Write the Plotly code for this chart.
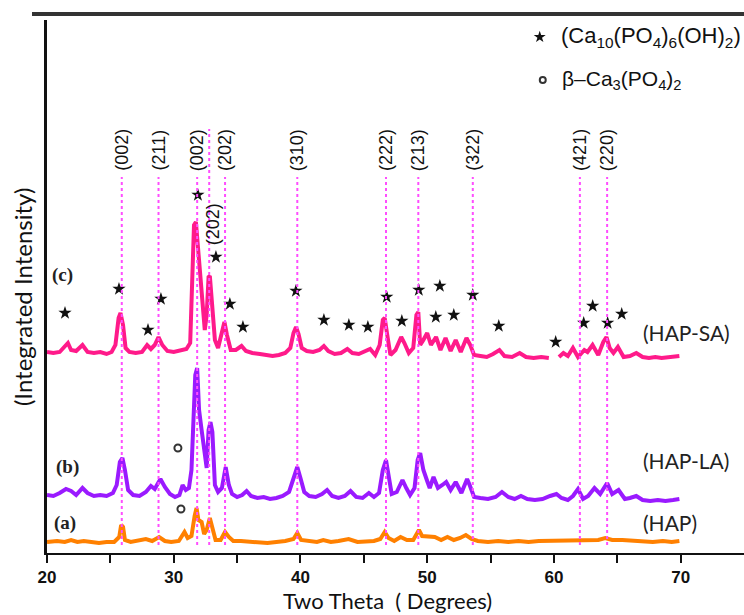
import plotly.graph_objects as go

# ---- XRD patterns (2-theta in degrees, stacked intensity in a.u.) ----
sa_theta = [20.0, 20.5, 21.0, 21.4, 21.65, 21.9, 22.3, 22.8, 23.2, 23.7, 24.2, 24.7, 25.1, 25.4, 25.65,
            25.8, 26.0, 26.2, 26.5, 27.0, 27.5, 27.9, 28.2, 28.5, 28.8, 29.1, 29.5, 30.0, 30.5, 31.0,
            31.3, 31.45, 31.6, 31.75, 31.9, 32.05, 32.25, 32.45, 32.6, 32.75, 32.85, 33.0, 33.25, 33.5,
            33.75, 34.0, 34.2, 34.5, 34.9, 35.35, 35.7, 36.2, 36.8, 37.3, 37.8, 38.3, 38.8, 39.2, 39.45,
            39.65, 39.85, 40.1, 40.5, 41.0, 41.5, 41.85, 42.2, 42.7, 43.2, 43.7, 44.1, 44.6, 45.1, 45.5,
            45.9, 46.25, 46.5, 46.65, 46.85, 47.1, 47.5, 47.95, 48.2, 48.55, 48.9, 49.15, 49.3, 49.45,
            49.7, 50.0, 50.3, 50.7, 51.05, 51.45, 51.85, 52.25, 52.65, 53.1, 53.4, 53.7, 54.2, 54.7,
            55.2, 55.7, 56.1, 56.7, 57.3, 57.8, 58.4, 59.0, 59.6, 59.9, 60.4, 60.75, 61.1, 61.5, 61.9,
            62.4, 62.65, 63.05, 63.5, 63.9, 64.15, 64.4, 64.7, 65.05, 65.5, 66.0, 66.5, 67.0, 67.5,
            68.0, 68.5, 69.0, 69.5, 69.9]
sa_counts = [201, 200, 201, 207, 210, 203, 202, 208, 201, 200, 201, 199, 201, 208, 235,
             240, 228, 205, 201, 200, 201, 208, 204, 208, 216, 208, 202, 201, 203, 204,
             210, 263, 328, 331, 308, 280, 253, 223, 238, 276, 277, 253, 213, 205,
             218, 231, 218, 203, 203, 207, 202, 200, 199, 198, 197, 198, 200, 205, 220,
             226, 219, 205, 202, 201, 203, 207, 202, 199, 200, 204, 200, 199, 202, 204,
             198, 208, 233, 235, 218, 198, 203, 216, 210, 200, 205, 238, 241, 208,
             213, 220, 208, 216, 203, 215, 202, 213, 201, 215, 208, 198, 197, 196,
             199, 203, 197, 196, 200, 196, 195, 196, 195, None, 196, 200, 197, 205, 196,
             203, 201, 208, 198, 211, 216, 205, 200, 206, 196, 197, 200, 196, 195,
             196, 195, 196, 196, 197]

la_theta = [20.0, 20.5, 21.0, 21.5, 21.9, 22.3, 22.8, 23.2, 23.7, 24.2, 24.7, 25.2, 25.5, 25.75, 25.95,
            26.15, 26.4, 26.8, 27.3, 27.8, 28.2, 28.5, 28.95, 29.3, 29.7, 30.1, 30.45, 30.7, 30.95,
            31.2, 31.4, 31.55, 31.7, 31.85, 32.0, 32.2, 32.45, 32.6, 32.75, 32.9, 33.05, 33.25, 33.5,
            33.8, 34.1, 34.35, 34.6, 35.0, 35.4, 35.75, 36.1, 36.6, 37.1, 37.6, 38.1, 38.6, 39.1,
            39.45, 39.75, 40.0, 40.3, 40.7, 41.2, 41.7, 42.1, 42.5, 43.0, 43.5, 43.95, 44.4, 44.9,
            45.4, 45.8, 46.2, 46.5, 46.75, 46.95, 47.2, 47.6, 48.05, 48.35, 48.65, 49.0, 49.25,
            49.45, 49.7, 50.0, 50.2, 50.5, 50.85, 51.2, 51.5, 51.85, 52.25, 52.7, 53.15, 53.35,
            53.7, 54.2, 54.8, 55.4, 55.9, 56.4, 56.9, 57.4, 57.9, 58.5, 59.1, 59.7, 60.2, 60.6,
            61.1, 61.5, 61.9, 62.3, 62.7, 63.2, 63.65, 64.2, 64.6, 65.1, 65.6, 66.0, 66.5, 67.0,
            67.6, 68.2, 68.8, 69.4, 69.9]
la_counts = [58, 57, 60, 64, 62, 58, 65, 60, 57, 58, 57, 60, 68, 91, 95,
             83, 63, 58, 57, 61, 67, 64, 74, 66, 59, 56, 58, 68, 63,
             65, 83, 133, 178, 185, 143, 123, 103, 85, 123, 131, 121, 68, 61,
             65, 86, 68, 59, 56, 58, 62, 57, 55, 56, 54, 55, 57, 61,
             75, 86, 75, 61, 57, 56, 59, 63, 57, 55, 57, 62, 56, 55,
             60, 56, 60, 83, 93, 78, 59, 61, 73, 65, 58, 65, 93,
             100, 83, 72, 65, 76, 65, 68, 71, 63, 71, 60, 74, 68,
             56, 55, 54, 56, 61, 56, 54, 57, 54, 53, 54, 57, 59, 55,
             53, 57, 64, 54, 57, 65, 59, 70, 59, 63, 54, 55, 57, 53,
             52, 53, 52, 53, 54]

hap_theta = [20.0, 20.8, 21.4, 21.9, 22.4, 22.9, 23.5, 24.1, 24.7, 25.3, 25.7, 25.85, 26.0, 26.15,
             26.6, 27.2, 27.8, 28.3, 28.85, 29.3, 29.8, 30.4, 30.85, 31.1, 31.4, 31.65, 31.8, 31.95,
             32.2, 32.4, 32.6, 32.85, 33.05, 33.3, 33.7, 34.05, 34.35, 34.7, 35.3, 36.0, 36.7, 37.4,
             38.1, 38.8, 39.45, 39.75, 40.05, 40.6, 41.3, 41.8, 42.4, 43.0, 43.8, 44.5, 45.2, 45.8,
             46.3, 46.65, 46.95, 47.4, 47.9, 48.4, 48.9, 49.35, 49.6, 50.1, 50.6, 51.1, 51.6, 52.1,
             52.6, 53.05, 53.5, 54.0, 54.8, 55.6, 56.4, 57.2, 58.0, 58.8, 59.6, 60.4, 61.2, 62.0,
             62.8, 63.5, 64.05, 64.6, 65.4, 66.2, 67.0, 67.8, 68.6, 69.3, 69.9]
hap_counts = [11, 12, 11, 13, 11, 12, 11, 10, 11, 11, 16, 28, 26, 13,
              11, 12, 14, 12, 16, 12, 11, 12, 21, 15, 17, 37, 45, 33,
              31, 19, 23, 35, 25, 13, 13, 21, 16, 12, 12, 11, 11, 10,
              11, 12, 14, 20, 13, 12, 11, 13, 11, 12, 14, 11, 12, 12,
              14, 21, 15, 12, 16, 13, 13, 23, 17, 16, 16, 13, 16, 13,
              15, 18, 14, 12, 11, 12, 11, 12, 11, 12, 12, 13, 12, 13,
              12, 13, 15, 13, 13, 12, 12, 11, 12, 11, 12]

# ---- reflection markers ----
hap_star_theta = [21.42, 25.68, 27.97, 28.99, 31.91, 33.33, 34.43, 35.46, 39.64, 41.85, 43.82, 45.32,
                  46.81, 48.0, 49.34, 50.68, 51.0, 52.1, 53.6, 55.65, 60.14, 62.35, 63.06, 64.24, 65.35]
hap_star_level = [240, 264, 223, 254, 358, 296, 249, 226, 262, 233, 228, 226,
                  256, 232, 263, 236, 267, 238, 258, 227, 211, 230, 247, 230, 239]
tcp_theta = [30.33, 30.57]
tcp_level = [105, 44]

# legend key positions
key_theta = [58.88, 59.12]
key_level = [516, 473]

# ---- Miller indices with guide lines ----
hkl_labels = ["(002)", "(211)", "(002)", "(202)", "(202)", "(310)", "(222)", "(213)", "(322)", "(421)", "(220)"]
hkl_theta = [25.9, 28.8, 31.85, 32.8, 34.05, 39.75, 46.75, 49.3, 53.6, 62.05, 64.2]
hkl_line_top = [376, 376, 376, 424, 376, 376, 376, 376, 376, 376, 376]
hkl_label_level = [403, 403, 403, 329, 403, 403, 403, 403, 403, 403, 403]
hkl_label_shift = [0, 0, 0, 4, 0, 0, 0, 0, 0, 0, 0]

sample_names = ["(HAP-SA)", "(HAP-LA)", "(HAP)"]
sample_levels = [221, 93, 31]
curve_tags = ["(c)", "(b)", "(a)"]
curve_tag_theta = [21.26, 21.58, 21.42]
curve_tag_levels = [278, 86, 30]

fig = go.Figure()

fig.add_trace(go.Scatter(x=hap_theta, y=hap_counts, mode="lines",
                         line=dict(color="#ff8000", width=4), showlegend=False))
fig.add_trace(go.Scatter(x=la_theta, y=la_counts, mode="lines",
                         line=dict(color="#9a1aff", width=4), showlegend=False))
fig.add_trace(go.Scatter(x=sa_theta, y=sa_counts, mode="lines",
                         line=dict(color="#ff1a8a", width=4), showlegend=False))

fig.add_trace(go.Scatter(x=hap_star_theta, y=hap_star_level, mode="markers",
                         marker=dict(symbol="star", size=10, color="#111"),
                         showlegend=False))
fig.add_trace(go.Scatter(x=tcp_theta, y=tcp_level, mode="markers",
                         marker=dict(symbol="circle-open", size=7, color="#333",
                                     line=dict(width=2, color="#333")),
                         showlegend=False))

# legend keys
fig.add_trace(go.Scatter(x=key_theta[:1], y=key_level[:1], mode="markers",
                         marker=dict(symbol="star", size=9, color="#111"), showlegend=False))
fig.add_trace(go.Scatter(x=key_theta[1:], y=key_level[1:], mode="markers",
                         marker=dict(symbol="circle-open", size=6, color="#333",
                                     line=dict(width=2, color="#333")), showlegend=False))
fig.add_annotation(x=key_theta[0], y=key_level[0], xshift=19, xanchor="left", yanchor="middle",
                   text="(Ca<sub>10</sub>(PO<sub>4</sub>)<sub>6</sub>(OH)<sub>2</sub>)",
                   showarrow=False, font=dict(family="Liberation Sans", size=22, color="#111"))
fig.add_annotation(x=key_theta[1], y=key_level[1], xshift=17, xanchor="left", yanchor="middle",
                   text="β–Ca<sub>3</sub>(PO<sub>4</sub>)<sub>2</sub>",
                   showarrow=False, font=dict(family="Liberation Sans", size=21, color="#111"))

for lab, th, top, lvl, sh in zip(hkl_labels, hkl_theta, hkl_line_top, hkl_label_level, hkl_label_shift):
    fig.add_shape(type="line", x0=th, x1=th, y0=8, y1=top, xref="x", yref="y",
                  line=dict(color="#ff4dff", width=2, dash="dot"))
    fig.add_annotation(x=th, y=lvl, text=lab, textangle=-90, showarrow=False, xshift=sh,
                       font=dict(family="Liberation Sans", size=18, color="#111"))

for name, lvl in zip(sample_names, sample_levels):
    fig.add_annotation(x=66.9, y=lvl, text=name, xanchor="left", showarrow=False,
                       font=dict(family="Lato", size=21, color="#222"))

for tag, th, lvl in zip(curve_tags, curve_tag_theta, curve_tag_levels):
    fig.add_annotation(x=th, y=lvl, text="<b>" + tag + "</b>", showarrow=False,
                       font=dict(family="Liberation Serif", size=19, color="#222"))

# axis titles
fig.add_annotation(xref="paper", yref="paper", x=0.489, y=-0.089, xanchor="center", yanchor="middle",
                   text="Two Theta&nbsp;&nbsp;( Degrees)", showarrow=False,
                   font=dict(family="Lato", size=22, color="#111"))
fig.add_annotation(xref="paper", yref="paper", x=-0.036, y=0.48, xanchor="center", yanchor="middle",
                   textangle=-90, text="(Integrated Intensity)", showarrow=False,
                   font=dict(family="Lato", size=24, color="#111"))

# top frame line
fig.add_shape(type="line", xref="paper", yref="paper", x0=-0.0215, x1=1.0,
              y0=1.0113, y1=1.0113, line=dict(color="#333", width=4))

fig.update_xaxes(range=[20, 75], tickvals=[20, 30, 40, 50, 60, 70], ticktext=["20", "30", "40", "50", "60", "70"],
                 ticks="outside", ticklen=8, tickwidth=2, tickcolor="#111",
                 minor=dict(tickvals=[25, 35, 45, 55, 65], ticks="outside", ticklen=8, tickwidth=2, tickcolor="#111"),
                 showline=True, linewidth=2, linecolor="#111", showgrid=False, zeroline=False,
                 tickfont=dict(family="Liberation Sans", size=17, color="#111", weight="bold"))
fig.update_yaxes(range=[0, 533], showline=True, linewidth=3, linecolor="#111",
                 showticklabels=False, ticks="", showgrid=False, zeroline=False)

fig.update_layout(width=744, height=615, margin=dict(l=47, r=0, t=20, b=62),
                  plot_bgcolor="white", paper_bgcolor="white", showlegend=False)

fig.write_html("out.html")
